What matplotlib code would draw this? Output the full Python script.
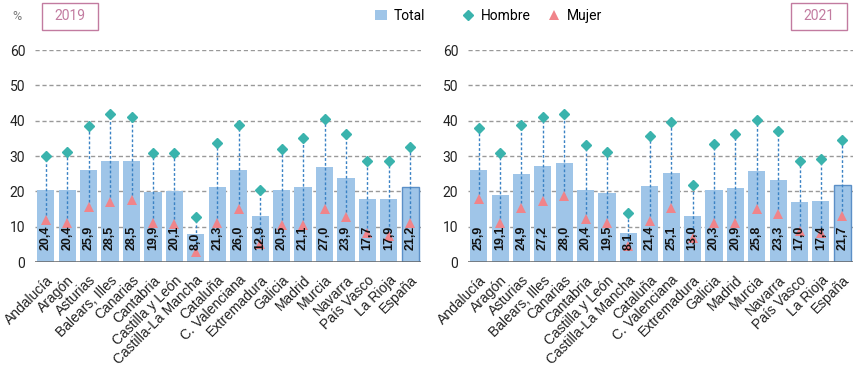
import numpy as np
import matplotlib.pyplot as plt
from matplotlib.lines import Line2D
from matplotlib.patches import Patch, Rectangle

plt.rcParams['font.family'] = ['Roboto', 'DejaVu Sans']

regiones = ['Andalucía', 'Aragón', 'Asturias', 'Balears, Illes', 'Canarias',
            'Cantabria', 'Castilla y León', 'Castilla-La Mancha', 'Cataluña',
            'C. Valenciana', 'Extremadura', 'Galicia', 'Madrid', 'Murcia',
            'Navarra', 'País Vasco', 'La Rioja', 'España']

# 2019
total_2019 = [20.4, 20.4, 25.9, 28.5, 28.5, 19.9, 20.1, 8.0, 21.3,
              26.0, 12.9, 20.5, 21.1, 27.0, 23.9, 17.7, 17.9, 21.2]
hombre_2019 = [30.0, 31.1, 38.6, 41.9, 41.1, 30.9, 30.9, 12.6, 33.8,
               38.7, 20.5, 32.1, 35.1, 40.5, 36.1, 28.7, 28.7, 32.5]
mujer_2019 = [11.9, 10.9, 15.7, 17.0, 17.5, 10.9, 10.7, 2.7, 10.9,
              14.9, 5.2, 10.4, 10.4, 15.1, 12.6, 8.1, 7.5, 11.1]

# 2021
total_2021 = [25.9, 19.1, 24.9, 27.2, 28.0, 20.4, 19.5, 8.1, 21.4,
              25.1, 13.0, 20.3, 20.9, 25.8, 23.3, 17.0, 17.4, 21.7]
hombre_2021 = [38.0, 30.9, 38.9, 40.9, 41.9, 33.0, 31.1, 14.0, 35.7,
               39.5, 21.9, 33.5, 36.1, 40.2, 37.0, 28.7, 29.2, 34.6]
mujer_2021 = [17.8, 10.9, 15.4, 17.3, 18.6, 12.3, 11.1, 4.5, 11.6,
              15.4, 6.9, 11.1, 11.1, 14.9, 13.5, 8.9, 8.3, 13.0]

C_BAR = '#9fc5e8'
C_HOMBRE = '#3ab3ad'
C_MUJER = '#f0848a'
C_LINE = '#3a82c4'
C_YEAR = '#c27ba0'
ARIAL = ['Liberation Sans', 'DejaVu Sans']


def draw_panel(ax, total, hombre, mujer):
    x = np.arange(len(regiones))
    edges = ['none'] * (len(regiones) - 1) + ['#5b8fc7']
    ax.bar(x, total, width=0.8, color=C_BAR, edgecolor=edges, linewidth=1, zorder=2)

    # dotted link between women and men values
    ax.vlines(x, mujer, hombre, color=C_LINE, linestyle=(0, (2, 1.5)), linewidth=1, zorder=3)
    ax.plot(x, hombre, 'D', color=C_HOMBRE, markersize=5.5, zorder=4)
    ax.plot(x, mujer, '^', color=C_MUJER, markersize=7.5, markeredgewidth=0, zorder=4)

    for xi, v in zip(x, total):
        ax.text(xi, 3.3, f'{v:.1f}'.replace('.', ','), rotation=90, ha='center',
                va='bottom', fontsize=9, fontweight='bold', family=ARIAL,
                color='#111', zorder=5)

    ax.set_xlim(-0.5, len(regiones) - 0.5)
    ax.set_ylim(0, 60)
    ax.set_yticks(range(0, 61, 10))
    ax.yaxis.grid(True, color='#999999', linestyle=(0, (3, 2)), linewidth=1, zorder=0)
    ax.set_axisbelow(True)
    ax.axhline(0, color='#666666', linewidth=1.8, zorder=6)
    for s in ax.spines.values():
        s.set_visible(False)
    ax.set_xticks(x)
    ax.set_xticklabels(regiones, rotation=45, ha='right', rotation_mode='anchor',
                       fontsize=9.5, family=ARIAL)
    ax.tick_params(axis='both', length=0, labelsize=10, colors='#222222')
    ax.tick_params(axis='y', pad=7)
    ax.tick_params(axis='x', pad=8)


fig = plt.figure(figsize=(8.58, 3.85), dpi=100)
ax1 = fig.add_axes([35 / 858, 1 - 262 / 385, 386 / 858, 212 / 385])
ax2 = fig.add_axes([468 / 858, 1 - 262 / 385, 385 / 858, 212 / 385])

draw_panel(ax1, total_2019, hombre_2019, mujer_2019)
draw_panel(ax2, total_2021, hombre_2021, mujer_2021)

# year boxes and unit
for x0, year in [(42, '2019'), (791, '2021')]:
    fig.patches.append(Rectangle((x0 / 858, 1 - 30 / 385), 56 / 858, 27 / 385,
                                 transform=fig.transFigure, facecolor='white',
                                 edgecolor=C_YEAR, linewidth=1))
    fig.text((x0 + 28) / 858, 1 - 16.5 / 385, year, ha='center', va='center',
             fontsize=10, color=C_YEAR)
fig.text(17 / 858, 1 - 16 / 385, '%', ha='center', va='center', fontsize=9, color='#777777')

# legends
h_total = [Patch(facecolor=C_BAR, edgecolor='none', label='Total')]
h_sex = [Line2D([], [], marker='D', color=C_HOMBRE, linestyle='none', markersize=5.5, label='Hombre'),
         Line2D([], [], marker='^', color=C_MUJER, linestyle='none', markersize=7.5,
                markeredgewidth=0, label='Mujer')]
fig.legend(handles=h_total, loc='center', bbox_to_anchor=(400 / 858, 1 - 16 / 385),
           frameon=False, fontsize=10, handlelength=0.9, handletextpad=0.5)
fig.legend(handles=h_sex, loc='center', bbox_to_anchor=(532 / 858, 1 - 16 / 385), ncol=2,
           frameon=False, fontsize=10, handlelength=0.9, handletextpad=0.5, columnspacing=1.2)

fig.savefig('out.png', dpi=100)
